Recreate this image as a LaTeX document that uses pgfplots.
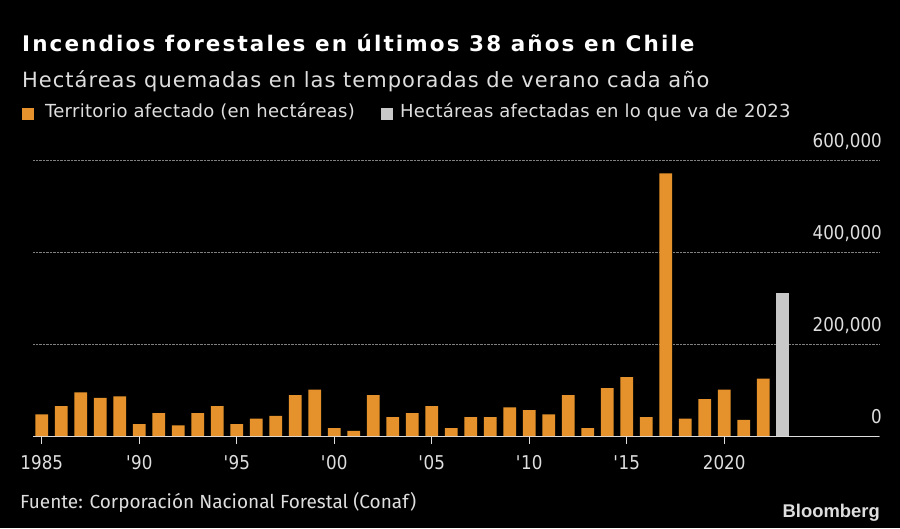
\documentclass[border=0pt]{standalone}
\usepackage{fontspec}
\usepackage{pgfplots}
\pgfplotsset{compat=1.18}
\setmainfont{DejaVu Sans}
\newfontfamily\titlefont{DejaVu Sans}[LetterSpace=9.8]
\newfontfamily\subfont{DejaVu Sans}[LetterSpace=4.8]
\newfontfamily\legfont{DejaVu Sans}[LetterSpace=1.5]
\newfontfamily\tickfont{DejaVu Sans}[FakeStretch=0.88]
\newfontfamily\footfont{Fira Sans}
\newfontfamily\bbfont{Liberation Sans}
\definecolor{bar}{RGB}{230,146,44}
\definecolor{grey}{RGB}{200,200,200}
\definecolor{txt}{RGB}{222,222,222}
\begin{document}
\begin{tikzpicture}
\fill[black] (0pt,0pt) rectangle (900pt,528pt);
\useasboundingbox (0pt,0pt) rectangle (900pt,528pt);
\node[anchor=base west,inner sep=0,text=white] at (22pt,476pt) {\titlefont\bfseries\fontsize{21.5}{24}\selectfont Incendios forestales en últimos 38 años en Chile};
\node[anchor=base west,inner sep=0,text=txt] at (22pt,440pt) {\subfont\fontsize{21}{24}\selectfont Hectáreas quemadas en las temporadas de verano cada año};
\fill[bar] (22pt,408pt) rectangle (34pt,420pt);
\node[anchor=base west,inner sep=0,text=txt] at (45pt,410pt) {\legfont\fontsize{18}{20}\selectfont Territorio afectado (en hectáreas)};
\fill[grey] (381pt,408pt) rectangle (393pt,420pt);
\node[anchor=base west,inner sep=0,text=txt] at (400pt,410pt) {\legfont\fontsize{18}{20}\selectfont Hectáreas afectadas en lo que va de 2023};
\node[anchor=base west,inner sep=0,text=txt] at (20pt,20pt) {\footfont\fontsize{19}{22}\selectfont Fuente: Corporación Nacional Forestal (Conaf)};
\node[anchor=base east,inner sep=0,text=txt] at (880pt,11pt) {\bbfont\bfseries\fontsize{18.4}{22}\selectfont Bloomberg};
\begin{axis}[
  at={(33pt,92pt)}, anchor=south west,
  scale only axis, width=846pt, height=276pt,
  xmin=1984.55, xmax=2027.94, ymin=0, ymax=600000,
  ybar, bar width=12.7pt,
  axis x line*=bottom, axis y line*=right,
  x axis line style={draw=txt, line width=0.8pt, -},
  y axis line style={draw=none},
  xtick={1985,1990,1995,2000,2005,2010,2015,2020},
  xticklabels={1985,\textquotesingle 90,\textquotesingle 95,\textquotesingle 00,\textquotesingle 05,\textquotesingle 10,\textquotesingle 15,2020},
  xtick style={draw=txt, line width=0.8pt},
  major tick length=8pt,
  tick align=outside,
  ytick={0,200000,400000,600000},
  ytick style={draw=none},
  scaled y ticks=false,
  /pgf/number format/.cd, 1000 sep={,}, fixed, assume math mode=true,
  /pgfplots/.cd,
  yticklabel style={anchor=base east, xshift=-5pt, yshift=13pt, inner sep=0pt, text=txt, font=\tickfont\fontsize{19}{22}\selectfont},
  xticklabel style={text=txt, font=\tickfont\fontsize{19}{22}\selectfont, yshift=-8pt},
  ymajorgrids, grid style={densely dotted, draw=gray, line width=0.8pt},
  clip=false,
]
\addplot[fill=bar, draw=none, bar shift=0pt] coordinates {
(1985,47000) (1986,65000) (1987,95000) (1988,83000) (1989,86000)
(1990,26000) (1991,50000) (1992,23000) (1993,50000) (1994,65000)
(1995,26000) (1996,38000) (1997,44000) (1998,89000) (1999,101000)
(2000,17000) (2001,11000) (2002,89000) (2003,41000) (2004,50000)
(2005,65000) (2006,17000) (2007,41000) (2008,41000) (2009,62000)
(2010,56000) (2011,47000) (2012,89000) (2013,17000) (2014,104000)
(2015,128000) (2016,41000) (2017,571000) (2018,38000) (2019,80000)
(2020,101000) (2021,35000) (2022,125000)};
\addplot[fill=grey, draw=none, bar shift=0pt] coordinates {(2023,310000)};
\end{axis}
\end{tikzpicture}
\end{document}
